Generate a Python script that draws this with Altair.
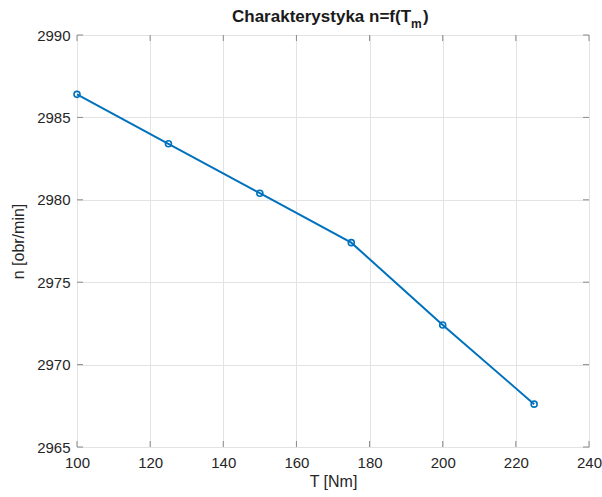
import altair as alt
import pandas as pd

T = [100, 125, 150, 175, 200, 225]
n = [2986.4, 2983.4, 2980.4, 2977.4, 2972.4, 2967.6]
x_ticks = [100, 120, 140, 160, 180, 200, 220, 240]
y_ticks = [2965, 2970, 2975, 2980, 2985, 2990]
title_main = "Charakterystyka n=f(T"
title_sub = "m"
title_end = ")"

df = pd.DataFrame({"T": T, "n": n})
xt = pd.DataFrame({"v": x_ticks})
yt = pd.DataFrame({"v": y_ticks})
one = pd.DataFrame({"a": [0]})

FONT = "Liberation Sans"
BLUE = "#0072BD"
AX = "#8a8a8a"

xs = alt.Scale(domain=[100, 240], nice=False, zero=False)
ys = alt.Scale(domain=[2965, 2990], nice=False, zero=False)

xaxis = alt.Axis(values=x_ticks, format="d", title="T [Nm]", grid=True, gridColor="#e3e3e3",
                 domain=False, ticks=False, labelFont=FONT, labelFontSize=15,
                 labelFlush=False, labelColor="#262626", titleFont=FONT, titleFontSize=16,
                 titleFontWeight="normal", titleColor="#262626", labelPadding=8,
                 titlePadding=3)
yaxis = alt.Axis(values=y_ticks, format="d", title="n [obr/min]", grid=True, gridColor="#e3e3e3",
                 domain=False, ticks=False, labelFont=FONT, labelFontSize=15,
                 labelFlush=False, labelColor="#262626", titleFont=FONT, titleFontSize=16,
                 titleFontWeight="normal", titleColor="#262626", labelPadding=7,
                 titlePadding=10)

line = alt.Chart(df).mark_line(color=BLUE, strokeWidth=2).encode(
    x=alt.X("T:Q", scale=xs, axis=xaxis),
    y=alt.Y("n:Q", scale=ys, axis=yaxis),
)
pts = alt.Chart(df).mark_point(shape="circle", filled=False, color=BLUE,
                               size=36, strokeWidth=1.6, opacity=1).encode(
    x=alt.X("T:Q", scale=xs), y=alt.Y("n:Q", scale=ys))

tick_bot = alt.Chart(xt).mark_rule(color=AX, strokeWidth=1).encode(
    x=alt.X("v:Q", scale=xs), y=alt.value(412), y2=alt.value(406))
tick_top = alt.Chart(xt).mark_rule(color=AX, strokeWidth=1).encode(
    x=alt.X("v:Q", scale=xs), y=alt.value(0), y2=alt.value(6))
tick_left = alt.Chart(yt).mark_rule(color=AX, strokeWidth=1).encode(
    y=alt.Y("v:Q", scale=ys), x=alt.value(0), x2=alt.value(6))
tick_right = alt.Chart(yt).mark_rule(color=AX, strokeWidth=1).encode(
    y=alt.Y("v:Q", scale=ys), x=alt.value(512), x2=alt.value(506))

t1 = alt.Chart(one).mark_text(font=FONT, fontSize=17, fontWeight="bold", color="#1a1a1a",
                              align="left", baseline="alphabetic").encode(
    x=alt.value(155), y=alt.value(-13), text=alt.value(title_main))
t2 = alt.Chart(one).mark_text(font=FONT, fontSize=12, fontWeight="bold", color="#1a1a1a",
                              align="left", baseline="alphabetic").encode(
    x=alt.value(334), y=alt.value(-7), text=alt.value(title_sub))
t3 = alt.Chart(one).mark_text(font=FONT, fontSize=17, fontWeight="bold", color="#1a1a1a",
                              align="left", baseline="alphabetic").encode(
    x=alt.value(346), y=alt.value(-13), text=alt.value(title_end))

chart = alt.layer(tick_bot, tick_top, tick_left, tick_right, line, pts, t1, t2, t3).properties(
    width=512, height=412,
    autosize=alt.AutoSizeParams(type="none"),
    padding={"left": 77, "top": 35, "right": 13, "bottom": 50},
).configure_view(stroke=AX, strokeWidth=1.2).configure(background="white")

chart.save("out.html", embed_options={"renderer": "svg", "actions": False})
